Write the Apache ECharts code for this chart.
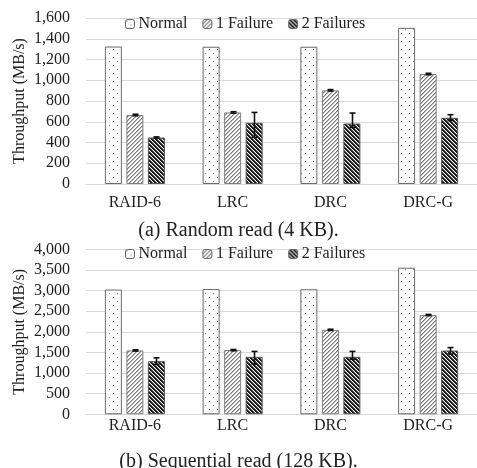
<!DOCTYPE html>
<html>
<head>
<meta charset="utf-8">
<script src="https://cdn.jsdelivr.net/npm/echarts@6/dist/echarts.min.js"></script>
<style>
  html, body { margin: 0; padding: 0; background: #fff; }
  #chart { width: 477px; height: 468px; }
</style>
</head>
<body>
<div id="chart"></div>
<script>
// categories and values
const categories = ['RAID-6', 'LRC', 'DRC', 'DRC-G']
const seriesNames = ['Normal', '1 Failure', '2 Failures']

// (a) random read, MB/s
const randNormal = [1325, 1323, 1323, 1505]
const randOne = [665, 690, 903, 1060]
const randTwo = [448, 590, 583, 638]
const randOneLow = [658, 683, 896, 1053]
const randOneHigh = [672, 697, 910, 1067]
const randTwoLow = [442, 450, 545, 612]
const randTwoHigh = [454, 690, 684, 668]

// (b) sequential read, MB/s
const seqNormal = [3024, 3038, 3031, 3553]
const seqOne = [1548, 1556, 2047, 2407]
const seqTwo = [1289, 1393, 1393, 1545]
const seqOneLow = [1533, 1541, 2032, 2392]
const seqOneHigh = [1563, 1571, 2062, 2422]
const seqTwoLow = [1209, 1217, 1338, 1463]
const seqTwoHigh = [1369, 1524, 1524, 1618]

const titles = ['(a) Random read (4 KB).', '(b) Sequential read (128 KB).']

const font = 'Liberation Serif'
const barW = 17
const barStep = 21.5 // distance between bar centres in a group

// 填充图案
const makePattern = (w, h, draw) => {
	const c = document.createElement('canvas')
	c.width = w
	c.height = h
	const ctx = c.getContext('2d')
	ctx.fillStyle = '#fff'
	ctx.fillRect(0, 0, w, h)
	draw(ctx)
	return { image: c, repeat: 'repeat' }
}
const dotPattern = makePattern(8, 8, (ctx) => {
	ctx.fillStyle = '#555'
	ctx.fillRect(1, 1, 1, 1)
	ctx.fillStyle = '#888'
	ctx.fillRect(5, 5, 1, 1)
})
const upPattern = makePattern(4, 4, (ctx) => {
	ctx.fillStyle = '#7a7a7a'
	for (let i = 0; i < 4; i++) ctx.fillRect(3 - i, i, 1, 1)
	ctx.fillStyle = '#b8b8b8'
	for (let i = 0; i < 4; i++) ctx.fillRect((4 - i) % 4, i, 1, 1)
})
const downPattern = makePattern(4, 4, (ctx) => {
	ctx.fillStyle = '#1a1a1a'
	for (let i = 0; i < 4; i++) {
		ctx.fillRect(i, i, 1, 1)
		ctx.fillRect((i + 1) % 4, i, 1, 1)
	}
	ctx.fillStyle = '#666'
	for (let i = 0; i < 4; i++) ctx.fillRect((i + 2) % 4, i, 1, 1)
})
const patterns = [dotPattern, upPattern, downPattern]
const borders = ['#6a6a6a', '#808080', '#555']

// 误差线
const errorItem = (offset) => (params, api) => {
	const c = api.coord([api.value(0), api.value(1)])
	const h = api.coord([api.value(0), api.value(2)])
	const x = Math.round(c[0] + offset) + 0.5
	const style = { stroke: '#111', lineWidth: 1.6 }
	return {
		type: 'group',
		children: [
			{ type: 'line', shape: { x1: x, y1: c[1], x2: x, y2: h[1] }, style },
			{ type: 'line', shape: { x1: x - 3, y1: c[1], x2: x + 3, y2: c[1] }, style },
			{ type: 'line', shape: { x1: x - 3, y1: h[1], x2: x + 3, y2: h[1] }, style }
		]
	}
}

const grids = [
	{ left: 86, top: 18, width: 392, height: 166 },
	{ left: 86, top: 249.3, width: 392, height: 165 }
]
const yMax = [1600, 4000]
const yStep = [200, 500]
const labelMargin = [11, 3]
const chartData = [
	{ bars: [randNormal, randOne, randTwo], err: [[randOneLow, randOneHigh], [randTwoLow, randTwoHigh]] },
	{ bars: [seqNormal, seqOne, seqTwo], err: [[seqOneLow, seqOneHigh], [seqTwoLow, seqTwoHigh]] }
]

const series = []
chartData.forEach((d, g) => {
	d.bars.forEach((vals, i) => {
		series.push({
			name: seriesNames[i],
			type: 'bar',
			xAxisIndex: g,
			yAxisIndex: g,
			barWidth: barW,
			barGap: ((barStep - barW) / barW * 100).toFixed(1) + '%',
			data: vals,
			itemStyle: { color: patterns[i], borderColor: borders[i], borderWidth: 1 }
		})
	})
	d.err.forEach((e, k) => {
		series.push({
			type: 'custom',
			xAxisIndex: g,
			yAxisIndex: g,
			renderItem: errorItem(k === 0 ? 0 : barStep),
			data: categories.map((c, j) => [j, e[0][j], e[1][j]]),
			z: 5
		})
	})
})

const option = {
	animation: false,
	textStyle: { fontFamily: font },
	title: titles.map((t, i) => ({
		text: t,
		left: 'center',
		top: i === 0 ? 216 : 447,
		textStyle: { fontFamily: font, fontSize: 20, fontWeight: 'normal', color: '#222' }
	})),
	legend: [0, 1].map((g) => ({
		data: seriesNames,
		left: 120,
		top: g === 0 ? 11 : 241,
		itemWidth: 9,
		itemHeight: 9,
		itemGap: 15,
		itemStyle: { borderWidth: 1, borderColor: '#666' },
		textStyle: { fontFamily: font, fontSize: 16, color: '#222', padding: [0, 0, 0, -1] }
	})),
	grid: grids,
	xAxis: grids.map((gr, g) => ({
		type: 'category',
		gridIndex: g,
		data: categories,
		axisLine: { lineStyle: { color: '#d9d9d9', width: 1 } },
		axisTick: { show: false },
		axisLabel: { fontFamily: font, fontSize: 16, color: '#222', margin: labelMargin[g] }
	})),
	yAxis: grids.map((gr, g) => ({
		type: 'value',
		gridIndex: g,
		min: 0,
		max: yMax[g],
		interval: yStep[g],
		name: 'Throughput (MB/s)',
		nameLocation: 'middle',
		nameGap: 58,
		nameMoveOverlap: false,
		nameTextStyle: { fontFamily: font, fontSize: 16, color: '#222' },
		axisLine: { show: false },
		axisTick: { show: false },
		splitLine: { lineStyle: { color: '#d9d9d9', width: 1 } },
		axisLabel: {
			fontFamily: font,
			fontSize: 16,
			color: '#222',
			margin: 16,
			formatter: (v) => v.toLocaleString('en-US')
		}
	})),
	series
}

const chart = echarts.init(document.getElementById('chart'))
chart.setOption(option)
</script>
</body>
</html>
